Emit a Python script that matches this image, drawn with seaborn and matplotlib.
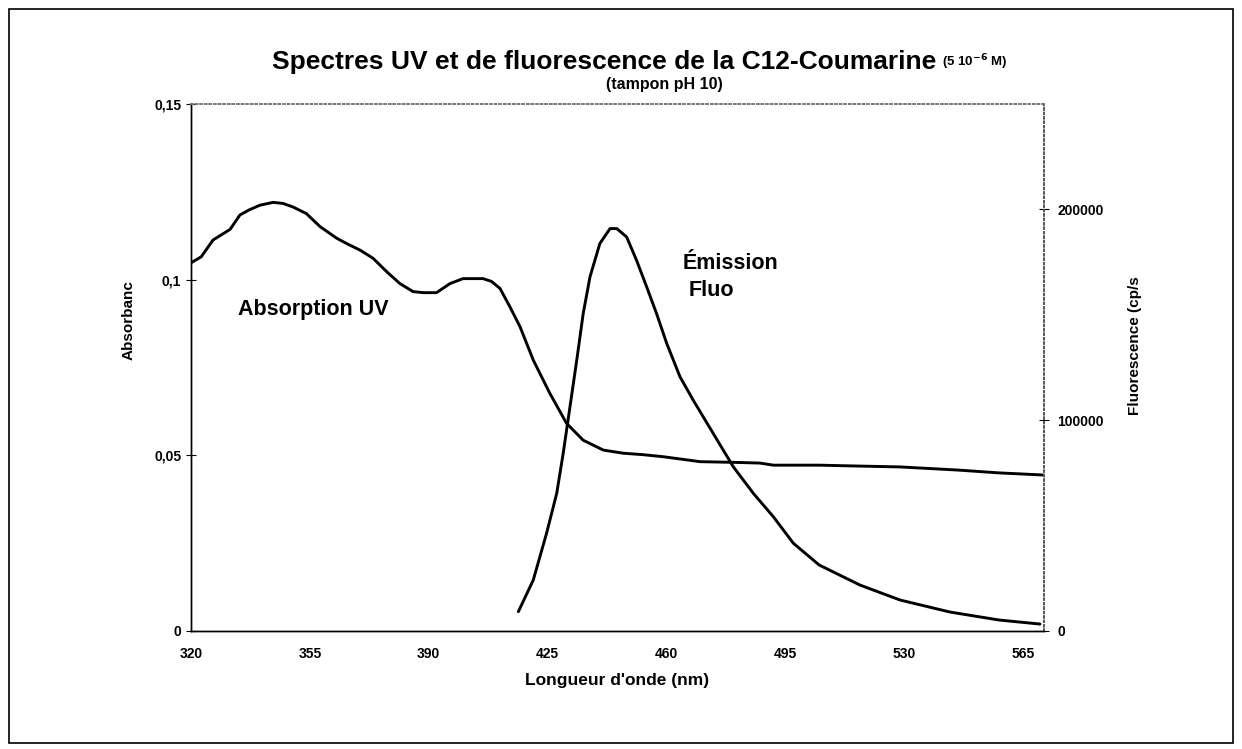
import matplotlib
matplotlib.use("Agg")
import matplotlib.pyplot as plt
import seaborn as sns
import pandas as pd
from matplotlib.patches import Rectangle
from matplotlib.ticker import FuncFormatter

# Absorption UV (absorbance vs wavelength, nm)
abs_wavelength = [320.0, 323.0, 326.5, 331.5, 334.4, 337.0, 340.3, 344.2, 347.1, 350.0,
                  354.0, 358.0, 362.9, 365.8, 369.8, 373.6, 377.6, 381.5, 385.4, 388.5,
                  392.3, 396.3, 400.1, 403.0, 406.0, 408.5, 411.0, 413.9, 416.9, 420.8,
                  425.7, 430.6, 435.5, 441.4, 447.3, 453.0, 459.1, 469.9, 480.0, 487.5,
                  491.5, 505.0, 514.0, 528.8, 546.0, 558.0, 571.0]
absorbance = [0.1048, 0.1065, 0.1113, 0.1143, 0.1184, 0.1198, 0.1212, 0.1220, 0.1217, 0.1207,
              0.1188, 0.1151, 0.1118, 0.1103, 0.1084, 0.1061, 0.1023, 0.0989, 0.0966, 0.0963,
              0.0963, 0.0989, 0.1003, 0.1003, 0.1003, 0.0995, 0.0975, 0.0923, 0.0866, 0.0771,
              0.0676, 0.0591, 0.0543, 0.0515, 0.0506, 0.0502, 0.0496, 0.0482, 0.0480, 0.0478,
              0.0472, 0.0472, 0.0470, 0.0467, 0.0458, 0.0450, 0.0444]

# Fluorescence emission (cp/s vs wavelength, nm)
fluo_wavelength = [416.4, 420.8, 424.7, 427.7, 429.6, 431.6, 433.6, 435.5, 437.5, 440.4,
                   443.4, 445.4, 448.3, 451.2, 454.2, 457.1, 460.1, 464.0, 467.9, 473.8,
                   479.7, 485.6, 491.5, 497.4, 505.0, 517.0, 528.8, 543.5, 558.0, 570.0]
fluorescence = [9150, 24200, 46300, 65300, 84200, 106300, 128500, 150600, 168000, 183800,
                190900, 190900, 186900, 175900, 163200, 150600, 136400, 120600, 109500, 93700,
                77900, 65300, 54200, 41600, 31300, 21800, 14700, 9000, 5200, 3300]

x_ticks = [320, 355, 390, 425, 460, 495, 530, 565]
abs_ticks = [0, 0.05, 0.1, 0.15]
fluo_ticks = [0, 100000, 200000]

df_abs = pd.DataFrame({"wl": abs_wavelength, "A": absorbance})
df_fluo = pd.DataFrame({"wl": fluo_wavelength, "F": fluorescence})

sns.set_theme(style="white")
plt.rcParams["font.family"] = ["Liberation Sans", "DejaVu Sans"]
plt.rcParams["font.weight"] = "bold"
for key in ("text.color", "axes.labelcolor", "xtick.color", "ytick.color"):
    plt.rcParams[key] = "black"

W, H = 1242, 749
fig = plt.figure(figsize=(W / 100, H / 100), dpi=100)
ax = fig.add_axes([191 / W, 1 - 631 / H, (1044 - 191) / W, (631 - 104) / H])
ax2 = ax.twinx()

sns.lineplot(data=df_abs, x="wl", y="A", ax=ax, color="black", linewidth=2.1,
             estimator=None, sort=False)
sns.lineplot(data=df_fluo, x="wl", y="F", ax=ax2, color="black", linewidth=2.1,
             estimator=None, sort=False)

ax.set_xlim(320, 571.2)
ax.set_ylim(0, 0.15)
ax2.set_ylim(0, 250000)

ax.set_xticks(x_ticks)
ax.set_yticks(abs_ticks)
ax2.set_yticks(fluo_ticks)

comma = FuncFormatter(lambda v, p: ("%g" % v).replace(".", ","))
ax.yaxis.set_major_formatter(comma)
ax2.yaxis.set_major_formatter(FuncFormatter(lambda v, p: "%d" % v))

for a in (ax, ax2):
    a.tick_params(axis="both", direction="inout", length=7, width=0.8,
                  color="black", labelsize=10, pad=3.5)
    for lab in a.get_xticklabels() + a.get_yticklabels():
        lab.set_fontweight("bold")
ax.tick_params(axis="x", pad=8)
ax2.tick_params(axis="y", pad=6)

ax.set_xlabel("Longueur d'onde (nm)", fontsize=12.5, fontweight="bold")
ax.xaxis.set_label_coords(0.5, -0.0797)
ax.set_ylabel("Absorbanc", fontsize=11, fontweight="bold")
ax.yaxis.set_label_coords(-0.0645, 0.59)
ax2.set_ylabel("Fluorescence (cp/s", fontsize=11, fontweight="bold")
ax2.yaxis.set_label_coords(1.0985, 0.541)

# Spines: solid left/bottom, dotted grey top/right
for a in (ax, ax2):
    a.spines["left"].set_color("black")
    a.spines["bottom"].set_color("black")
    a.spines["left"].set_linewidth(1.0)
    a.spines["bottom"].set_linewidth(1.0)
    a.spines["top"].set_color("#777777")
    a.spines["top"].set_linestyle(":")
    a.spines["right"].set_color("#555555")
    a.spines["right"].set_linestyle(":")
    a.spines["right"].set_linewidth(1.2)

ax.text(0.0551, 0.61, "Absorption UV", transform=ax.transAxes, fontsize=15.5,
        fontweight="bold", ha="left", va="center")
ax.text(0.5768, 0.698, "Émission", transform=ax.transAxes, fontsize=15.5,
        fontweight="bold", ha="left", va="center")
ax.text(0.5838, 0.647, "Fluo", transform=ax.transAxes, fontsize=15.5,
        fontweight="bold", ha="left", va="center")

title = fig.text(272 / W, 1 - 62 / H, "Spectres UV et de fluorescence de la C12-Coumarine",
                 fontsize=19, fontweight="bold", ha="left", va="center")
fig.canvas.draw()
tb = title.get_window_extent()
fig.text((tb.x1 + 6) / W, 1 - 62 / H, r"(5 10$^{\mathbf{-6}}$ M)", fontsize=9.5,
         fontweight="bold", ha="left", va="center")
fig.text((tb.x0 + 0.59 * tb.width) / W, 1 - 85 / H, "(tampon pH 10)", fontsize=11.5,
         fontweight="bold", ha="center", va="center")

# Outer chart frame
fig.patches.append(Rectangle((9 / W, 6 / H), 1224 / W, 734 / H,
                             transform=fig.transFigure, fill=False,
                             edgecolor="black", linewidth=1.2))

fig.savefig("out.png", dpi=100)
